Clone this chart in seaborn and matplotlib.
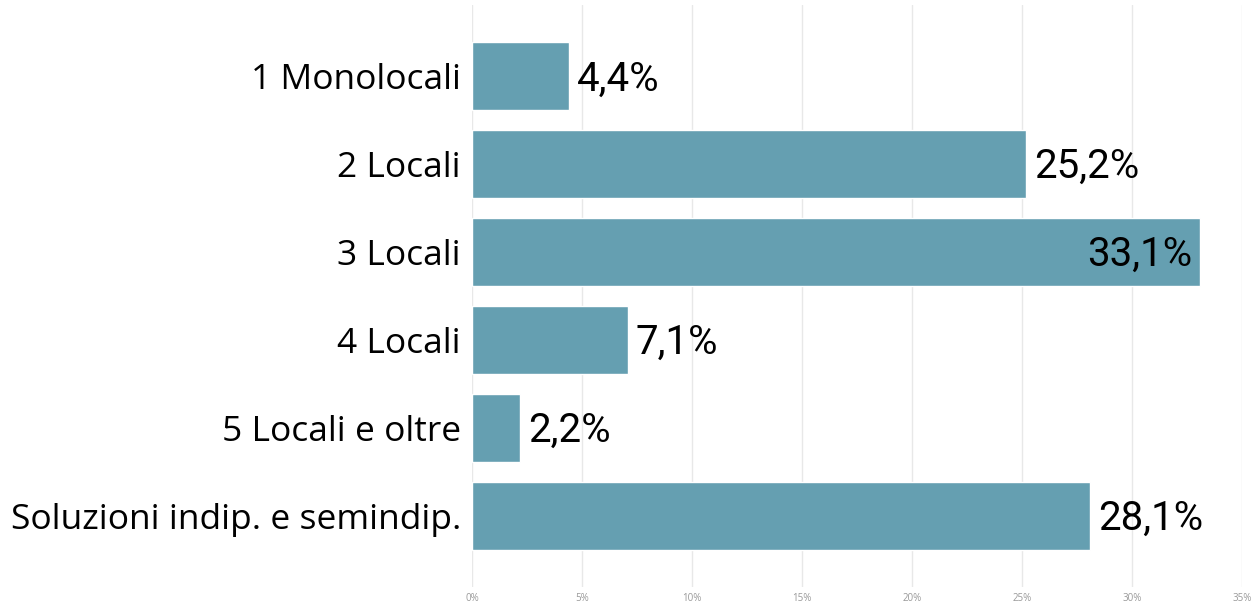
import matplotlib
matplotlib.use('Agg')
import matplotlib.pyplot as plt
import seaborn as sns
import pandas as pd
from matplotlib.ticker import FuncFormatter

# Dati
categorie = ['1 Monolocali', '2 Locali', '3 Locali', '4 Locali',
             '5 Locali e oltre', 'Soluzioni indip. e semindip.']
percentuali = [4.4, 25.2, 33.1, 7.1, 2.2, 28.1]
tick_valori = [0, 5, 10, 15, 20, 25, 30, 35]

df = pd.DataFrame({'categoria': categorie, 'valore': percentuali})

sns.set_style('white')
plt.rcParams['font.family'] = ['Open Sans', 'DejaVu Sans']

fig = plt.figure(figsize=(12.52, 6.03), dpi=100)
ax = fig.add_axes([472 / 1252, 16 / 603, 770 / 1252, 582 / 603])

sns.barplot(data=df, x='valore', y='categoria', color='#659fb1',
            width=0.77, saturation=1, ax=ax, zorder=2)

ax.set_xlim(0, 35)
ax.set_ylim(5.81, -0.81)
ax.set_xticks(tick_valori)
ax.xaxis.set_major_formatter(FuncFormatter(lambda v, p: f'{int(v)}%'))
ax.tick_params(axis='x', labelsize=7, colors='#999999', length=0, pad=4)
ax.tick_params(axis='y', labelsize=25.5, colors='black', length=0, pad=8)
ax.grid(axis='x', color='#e8e8e8', linewidth=1, zorder=0)
ax.set_xlabel('')
ax.set_ylabel('')
for s in ax.spines.values():
    s.set_visible(False)

# Etichette dei valori
vmax = max(percentuali)
for i, v in enumerate(percentuali):
    testo = f'{v:.1f}%'.replace('.', ',')
    if v == vmax:
        ax.text(v - 0.35, i + 0.03, testo, ha='right', va='center', fontsize=29,
                family=['Roboto', 'DejaVu Sans'], color='black', zorder=3)
    else:
        ax.text(v + 0.35, i + 0.03, testo, ha='left', va='center', fontsize=29,
                family=['Roboto', 'DejaVu Sans'], color='black', zorder=3)

fig.savefig('out.png', dpi=100)
